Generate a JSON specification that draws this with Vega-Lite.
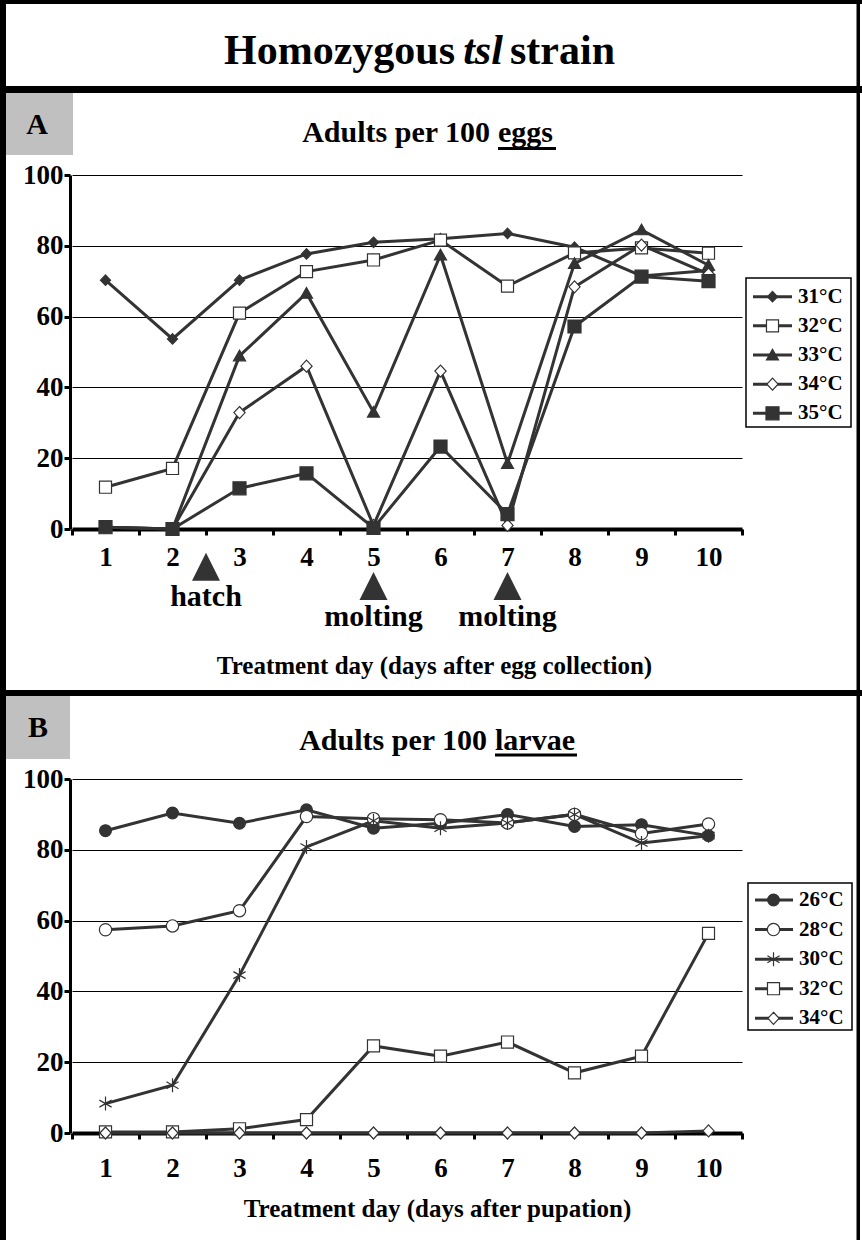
{
  "$schema": "https://vega.github.io/schema/vega-lite/v6.json",
  "width": 862,
  "height": 1240,
  "autosize": {"type": "none"},
  "padding": 0,
  "background": "white",
  "config": {
    "view": {"stroke": null},
    "font": "Liberation Serif",
    "axis": {
      "labelFont": "Liberation Serif", "labelFontWeight": "bold", "labelColor": "black",
      "titleFont": "Liberation Serif", "titleFontWeight": "bold", "titleColor": "black",
      "domainColor": "black", "tickColor": "black", "labelFlush": false, "labelOverlap": false
    },
    "text": {"font": "Liberation Serif", "fontWeight": "bold", "color": "black"}
  },
  "datasets": {
    "eggs": [
      {"day": 1, "series": "31°C", "value": 70.3}, {"day": 2, "series": "31°C", "value": 53.7}, {"day": 3, "series": "31°C", "value": 70.3}, {"day": 4, "series": "31°C", "value": 77.7}, {"day": 5, "series": "31°C", "value": 81.0}, {"day": 6, "series": "31°C", "value": 82.0}, {"day": 7, "series": "31°C", "value": 83.5}, {"day": 8, "series": "31°C", "value": 79.6}, {"day": 9, "series": "31°C", "value": 71.5}, {"day": 10, "series": "31°C", "value": 73.0},
      {"day": 1, "series": "32°C", "value": 11.8}, {"day": 2, "series": "32°C", "value": 17.1}, {"day": 3, "series": "32°C", "value": 61.0}, {"day": 4, "series": "32°C", "value": 72.7}, {"day": 5, "series": "32°C", "value": 76.0}, {"day": 6, "series": "32°C", "value": 81.6}, {"day": 7, "series": "32°C", "value": 68.6}, {"day": 8, "series": "32°C", "value": 78.0}, {"day": 9, "series": "32°C", "value": 79.4}, {"day": 10, "series": "32°C", "value": 77.9},
      {"day": 1, "series": "33°C", "value": 0.5}, {"day": 2, "series": "33°C", "value": 0}, {"day": 3, "series": "33°C", "value": 48.9}, {"day": 4, "series": "33°C", "value": 66.6}, {"day": 5, "series": "33°C", "value": 33.0}, {"day": 6, "series": "33°C", "value": 77.4}, {"day": 7, "series": "33°C", "value": 18.5}, {"day": 8, "series": "33°C", "value": 75.0}, {"day": 9, "series": "33°C", "value": 84.5}, {"day": 10, "series": "33°C", "value": 74.5},
      {"day": 1, "series": "34°C", "value": 0.5}, {"day": 2, "series": "34°C", "value": 0}, {"day": 3, "series": "34°C", "value": 32.9}, {"day": 4, "series": "34°C", "value": 46.0}, {"day": 5, "series": "34°C", "value": 1.0}, {"day": 6, "series": "34°C", "value": 44.6}, {"day": 7, "series": "34°C", "value": 1.0}, {"day": 8, "series": "34°C", "value": 68.4}, {"day": 9, "series": "34°C", "value": 80.2}, {"day": 10, "series": "34°C", "value": 72.0},
      {"day": 1, "series": "35°C", "value": 0.5}, {"day": 2, "series": "35°C", "value": 0}, {"day": 3, "series": "35°C", "value": 11.5}, {"day": 4, "series": "35°C", "value": 15.7}, {"day": 5, "series": "35°C", "value": 0.3}, {"day": 6, "series": "35°C", "value": 23.3}, {"day": 7, "series": "35°C", "value": 4.2}, {"day": 8, "series": "35°C", "value": 57.2}, {"day": 9, "series": "35°C", "value": 71.3}, {"day": 10, "series": "35°C", "value": 70.0}
    ],
    "larvae": [
      {"day": 1, "series": "26°C", "value": 85.4}, {"day": 2, "series": "26°C", "value": 90.4}, {"day": 3, "series": "26°C", "value": 87.5}, {"day": 4, "series": "26°C", "value": 91.3}, {"day": 5, "series": "26°C", "value": 86.1}, {"day": 6, "series": "26°C", "value": 87.5}, {"day": 7, "series": "26°C", "value": 90.0}, {"day": 8, "series": "26°C", "value": 86.6}, {"day": 9, "series": "26°C", "value": 87.1}, {"day": 10, "series": "26°C", "value": 84.0},
      {"day": 1, "series": "28°C", "value": 57.4}, {"day": 2, "series": "28°C", "value": 58.5}, {"day": 3, "series": "28°C", "value": 62.8}, {"day": 4, "series": "28°C", "value": 89.4}, {"day": 5, "series": "28°C", "value": 88.8}, {"day": 6, "series": "28°C", "value": 88.5}, {"day": 7, "series": "28°C", "value": 87.6}, {"day": 8, "series": "28°C", "value": 90.0}, {"day": 9, "series": "28°C", "value": 84.6}, {"day": 10, "series": "28°C", "value": 87.3},
      {"day": 1, "series": "30°C", "value": 8.3}, {"day": 2, "series": "30°C", "value": 13.5}, {"day": 3, "series": "30°C", "value": 44.6}, {"day": 4, "series": "30°C", "value": 80.8}, {"day": 5, "series": "30°C", "value": 88.2}, {"day": 6, "series": "30°C", "value": 86.1}, {"day": 7, "series": "30°C", "value": 87.6}, {"day": 8, "series": "30°C", "value": 90.0}, {"day": 9, "series": "30°C", "value": 81.9}, {"day": 10, "series": "30°C", "value": 84.0},
      {"day": 1, "series": "32°C", "value": 0.3}, {"day": 2, "series": "32°C", "value": 0.3}, {"day": 3, "series": "32°C", "value": 1.2}, {"day": 4, "series": "32°C", "value": 3.8}, {"day": 5, "series": "32°C", "value": 24.6}, {"day": 6, "series": "32°C", "value": 21.7}, {"day": 7, "series": "32°C", "value": 25.7}, {"day": 8, "series": "32°C", "value": 17.0}, {"day": 9, "series": "32°C", "value": 21.7}, {"day": 10, "series": "32°C", "value": 56.4},
      {"day": 1, "series": "34°C", "value": 0}, {"day": 2, "series": "34°C", "value": 0}, {"day": 3, "series": "34°C", "value": 0}, {"day": 4, "series": "34°C", "value": 0}, {"day": 5, "series": "34°C", "value": 0}, {"day": 6, "series": "34°C", "value": 0}, {"day": 7, "series": "34°C", "value": 0}, {"day": 8, "series": "34°C", "value": 0}, {"day": 9, "series": "34°C", "value": 0}, {"day": 10, "series": "34°C", "value": 0.6}
    ],
    "seriesA": [{"series": "31°C"}, {"series": "32°C"}, {"series": "33°C"}, {"series": "34°C"}, {"series": "35°C"}],
    "seriesB": [{"series": "26°C"}, {"series": "28°C"}, {"series": "30°C"}, {"series": "32°C"}, {"series": "34°C"}],
    "events": [{"day": 2.5, "event": "hatch"}, {"day": 5, "event": "molting"}, {"day": 7, "event": "molting"}]
  },
  "data": {"values": [{}]},
  "layer": [
    {"mark": {"type": "rect", "fill": "#c0c0c0"}, "encoding": {"x": {"value": 6}, "x2": {"value": 73}, "y": {"value": 93}, "y2": {"value": 155}}},
    {"mark": {"type": "rect", "fill": "#c0c0c0"}, "encoding": {"x": {"value": 6}, "x2": {"value": 70}, "y": {"value": 696}, "y2": {"value": 759}}},
    {"mark": {"type": "rect", "fill": "black"}, "encoding": {"x": {"value": 0}, "x2": {"value": 6}, "y": {"value": 0}, "y2": {"value": 1240}}},
    {"mark": {"type": "rect", "fill": "black"}, "encoding": {"x": {"value": 0}, "x2": {"value": 862}, "y": {"value": 0}, "y2": {"value": 4}}},
    {"mark": {"type": "rect", "fill": "black"}, "encoding": {"x": {"value": 856.5}, "x2": {"value": 860}, "y": {"value": 0}, "y2": {"value": 1240}}},
    {"mark": {"type": "rect", "fill": "black"}, "encoding": {"x": {"value": 0}, "x2": {"value": 862}, "y": {"value": 86}, "y2": {"value": 93}}},
    {"mark": {"type": "rect", "fill": "black"}, "encoding": {"x": {"value": 0}, "x2": {"value": 862}, "y": {"value": 690}, "y2": {"value": 696}}},
    {"mark": {"type": "text", "text": "Homozygous", "fontSize": 42, "align": "right", "baseline": "alphabetic"}, "encoding": {"x": {"value": 455}, "y": {"value": 64}}},
    {"mark": {"type": "text", "text": "tsl", "fontSize": 42, "fontStyle": "italic", "align": "center", "baseline": "alphabetic"}, "encoding": {"x": {"value": 483}, "y": {"value": 64}}},
    {"mark": {"type": "text", "text": "strain", "fontSize": 42, "align": "left", "baseline": "alphabetic"}, "encoding": {"x": {"value": 510}, "y": {"value": 64}}},
    {"mark": {"type": "text", "text": "A", "fontSize": 30, "align": "center", "baseline": "middle"}, "encoding": {"x": {"value": 37}, "y": {"value": 125}}},
    {"mark": {"type": "text", "text": "B", "fontSize": 30, "align": "center", "baseline": "middle"}, "encoding": {"x": {"value": 38}, "y": {"value": 728}}},
    {"mark": {"type": "text", "text": "Adults per 100", "fontSize": 30, "align": "right", "baseline": "alphabetic"}, "encoding": {"x": {"value": 490}, "y": {"value": 142}}},
    {"mark": {"type": "text", "text": "eggs", "fontSize": 30, "align": "left", "baseline": "alphabetic"}, "encoding": {"x": {"value": 498}, "y": {"value": 142}}},
    {"mark": {"type": "rule", "color": "black", "strokeWidth": 3}, "encoding": {"x": {"value": 498}, "x2": {"value": 556}, "y": {"value": 148.5}}},
    {"mark": {"type": "text", "text": "Adults per 100", "fontSize": 30, "align": "right", "baseline": "alphabetic"}, "encoding": {"x": {"value": 487}, "y": {"value": 750}}},
    {"mark": {"type": "text", "text": "larvae", "fontSize": 30, "align": "left", "baseline": "alphabetic"}, "encoding": {"x": {"value": 495}, "y": {"value": 750}}},
    {"mark": {"type": "rule", "color": "black", "strokeWidth": 3}, "encoding": {"x": {"value": 495}, "x2": {"value": 577}, "y": {"value": 755}}},
    {"mark": {"type": "rect", "fill": "white", "stroke": "black", "strokeWidth": 1.5}, "encoding": {"x": {"value": 746}, "x2": {"value": 851}, "y": {"value": 278}, "y2": {"value": 427}}},
    {"mark": {"type": "rect", "fill": "white", "stroke": "black", "strokeWidth": 1.5}, "encoding": {"x": {"value": 748}, "x2": {"value": 852}, "y": {"value": 883}, "y2": {"value": 1030}}},
    {
      "data": {"name": "eggs"},
      "encoding": {
        "x": {"field": "day", "type": "quantitative",
          "scale": {"domain": [0.5, 10.5], "range": [72, 742], "nice": false, "zero": false},
          "axis": {"orient": "bottom", "offset": -711, "values": [0.5, 1.5, 2.5, 3.5, 4.5, 5.5, 6.5, 7.5, 8.5, 9.5, 10.5],
            "labelExpr": "datum.value < 10 ? format(datum.value + 0.5, 'd') : ''", "labelOffset": 33.5,
            "labelFontSize": 27, "labelPadding": 9, "tickSize": 6, "tickWidth": 3, "domainWidth": 4, "grid": false,
            "title": "Treatment day (days after egg collection)", "titleFontSize": 25, "titleX": 434, "titleY": 144,
            "titleAlign": "center", "titleBaseline": "alphabetic"}},
        "y": {"field": "value", "type": "quantitative",
          "scale": {"domain": [0, 100], "range": [529, 175], "nice": false, "zero": false},
          "axis": {"orient": "left", "offset": -70, "values": [0, 20, 40, 60, 80, 100], "labelFontSize": 27, "labelPadding": 1,
            "tickSize": 6, "tickWidth": 3, "domainWidth": 3, "grid": true, "gridColor": "black", "gridWidth": 1, "gridOpacity": 1, "title": null}}
      },
      "layer": [
        {"data": {"values": [{}]}, "mark": {"type": "rule", "color": "#999999", "strokeWidth": 1.5}, "encoding": {"x": {"datum": 0.5}, "x2": {"datum": 10.5}, "y": {"datum": 99.4}}},
        {"mark": {"type": "line", "color": "#333333", "strokeWidth": 3}, "encoding": {"detail": {"field": "series", "type": "nominal"}}},
        {"mark": {"type": "point", "opacity": 1, "stroke": "#333333", "strokeWidth": 1.2, "size": 196},
          "encoding": {
            "shape": {"field": "series", "type": "nominal", "legend": null, "scale": {"domain": ["31°C", "32°C", "33°C", "34°C", "35°C"],
              "range": ["M0,-0.75L0.72,0L0,0.75L-0.72,0Z", "M-0.86,-0.86L0.86,-0.86L0.86,0.86L-0.86,0.86Z", "M0,-0.82L0.86,0.7L-0.86,0.7Z", "M0,-0.86L0.8,0L0,0.86L-0.8,0Z", "M-0.93,-0.93L0.93,-0.93L0.93,0.93L-0.93,0.93Z"]}},
            "fill": {"field": "series", "type": "nominal", "legend": null, "scale": {"domain": ["31°C", "32°C", "33°C", "34°C", "35°C"], "range": ["#333333", "white", "#333333", "white", "#333333"]}}
          }}
      ]
    },
    {
      "data": {"name": "larvae"},
      "encoding": {
        "x": {"field": "day", "type": "quantitative",
          "scale": {"domain": [0.5, 10.5], "range": [72, 742], "nice": false, "zero": false},
          "axis": {"orient": "bottom", "offset": -107, "values": [0.5, 1.5, 2.5, 3.5, 4.5, 5.5, 6.5, 7.5, 8.5, 9.5, 10.5],
            "labelExpr": "datum.value < 10 ? format(datum.value + 0.5, 'd') : ''", "labelOffset": 33.5,
            "labelFontSize": 27, "labelPadding": 16, "tickSize": 6, "tickWidth": 3, "domainWidth": 4, "grid": false,
            "title": "Treatment day (days after pupation)", "titleFontSize": 25, "titleX": 437, "titleY": 83,
            "titleAlign": "center", "titleBaseline": "alphabetic"}},
        "y": {"field": "value", "type": "quantitative",
          "scale": {"domain": [0, 100], "range": [1133, 779], "nice": false, "zero": false},
          "axis": {"orient": "left", "offset": -70, "values": [0, 20, 40, 60, 80, 100], "labelFontSize": 27, "labelPadding": 1,
            "tickSize": 6, "tickWidth": 3, "domainWidth": 3, "grid": true, "gridColor": "black", "gridWidth": 1, "gridOpacity": 1, "title": null}}
      },
      "layer": [
        {"mark": {"type": "line", "color": "#333333", "strokeWidth": 3}, "encoding": {"detail": {"field": "series", "type": "nominal"}}},
        {"mark": {"type": "point", "opacity": 1, "stroke": "#333333", "strokeWidth": 1.2, "size": 196},
          "encoding": {
            "shape": {"field": "series", "type": "nominal", "legend": null, "scale": {"domain": ["26°C", "28°C", "30°C", "32°C", "34°C"],
              "range": ["M0.84,0A0.84,0.84,0,1,1,-0.84,0A0.84,0.84,0,1,1,0.84,0Z", "M0.88,0A0.88,0.88,0,1,1,-0.88,0A0.88,0.88,0,1,1,0.88,0Z", "M0,-1L0,1M-0.87,-0.5L0.87,0.5M-0.87,0.5L0.87,-0.5", "M-0.86,-0.86L0.86,-0.86L0.86,0.86L-0.86,0.86Z", "M0,-0.86L0.8,0L0,0.86L-0.8,0Z"]}},
            "fill": {"field": "series", "type": "nominal", "legend": null, "scale": {"domain": ["26°C", "28°C", "30°C", "32°C", "34°C"], "range": ["#333333", "white", "transparent", "white", "white"]}}
          }}
      ]
    },
    {
      "data": {"name": "events"},
      "encoding": {
        "x": {"field": "day", "type": "quantitative", "axis": null, "scale": {"domain": [0.5, 10.5], "range": [72, 742], "nice": false, "zero": false}},
        "y": {"field": "event", "type": "nominal", "axis": null, "scale": {"type": "point", "domain": ["hatch", "molting"], "range": [566.7, 586], "padding": 0}}
      },
      "layer": [
        {"mark": {"type": "point", "shape": "M0,-1L1,1L-1,1Z", "size": 784, "filled": true, "color": "#333333", "opacity": 1}},
        {"mark": {"type": "text", "fontSize": 30, "align": "center", "baseline": "alphabetic", "dy": 39.5}, "encoding": {"text": {"field": "event"}}}
      ]
    },
    {
      "data": {"name": "seriesA"},
      "encoding": {
        "y": {"field": "series", "type": "nominal", "axis": null, "scale": {"type": "point", "domain": ["31°C", "32°C", "33°C", "34°C", "35°C"], "range": [296.7, 413.3], "padding": 0}}
      },
      "layer": [
        {"mark": {"type": "rule", "color": "#333333", "strokeWidth": 3}, "encoding": {"x": {"value": 753}, "x2": {"value": 792}}},
        {"mark": {"type": "point", "opacity": 1, "stroke": "#333333", "strokeWidth": 1.2, "size": 196},
          "encoding": {
            "x": {"value": 772.5},
            "shape": {"field": "series", "type": "nominal", "legend": null, "scale": {"domain": ["31°C", "32°C", "33°C", "34°C", "35°C"],
              "range": ["M0,-0.75L0.72,0L0,0.75L-0.72,0Z", "M-0.86,-0.86L0.86,-0.86L0.86,0.86L-0.86,0.86Z", "M0,-0.82L0.86,0.7L-0.86,0.7Z", "M0,-0.86L0.8,0L0,0.86L-0.8,0Z", "M-0.93,-0.93L0.93,-0.93L0.93,0.93L-0.93,0.93Z"]}},
            "fill": {"field": "series", "type": "nominal", "legend": null, "scale": {"domain": ["31°C", "32°C", "33°C", "34°C", "35°C"], "range": ["#333333", "white", "#333333", "white", "#333333"]}}
          }},
        {"mark": {"type": "text", "fontSize": 21, "align": "left", "baseline": "middle"}, "encoding": {"x": {"value": 798}, "text": {"field": "series"}}}
      ]
    },
    {
      "data": {"name": "seriesB"},
      "encoding": {
        "y": {"field": "series", "type": "nominal", "axis": null, "scale": {"type": "point", "domain": ["26°C", "28°C", "30°C", "32°C", "34°C"], "range": [900, 1018.3], "padding": 0}}
      },
      "layer": [
        {"mark": {"type": "rule", "color": "#333333"}, "encoding": {"x": {"value": 755}, "x2": {"value": 793},
          "strokeWidth": {"field": "series", "type": "ordinal", "legend": null, "scale": {"domain": ["26°C", "28°C", "30°C", "32°C", "34°C"], "range": [3, 3, 3, 3, 1.2]}}}},
        {"mark": {"type": "point", "opacity": 1, "stroke": "#333333", "strokeWidth": 1.2, "size": 196},
          "encoding": {
            "x": {"value": 773.5},
            "shape": {"field": "series", "type": "nominal", "legend": null, "scale": {"domain": ["26°C", "28°C", "30°C", "32°C", "34°C"],
              "range": ["M0.84,0A0.84,0.84,0,1,1,-0.84,0A0.84,0.84,0,1,1,0.84,0Z", "M0.88,0A0.88,0.88,0,1,1,-0.88,0A0.88,0.88,0,1,1,0.88,0Z", "M0,-1L0,1M-0.87,-0.5L0.87,0.5M-0.87,0.5L0.87,-0.5", "M-0.86,-0.86L0.86,-0.86L0.86,0.86L-0.86,0.86Z", "M0,-0.86L0.8,0L0,0.86L-0.8,0Z"]}},
            "fill": {"field": "series", "type": "nominal", "legend": null, "scale": {"domain": ["26°C", "28°C", "30°C", "32°C", "34°C"], "range": ["#333333", "white", "transparent", "white", "white"]}}
          }},
        {"mark": {"type": "text", "fontSize": 21, "align": "left", "baseline": "middle"}, "encoding": {"x": {"value": 799}, "text": {"field": "series"}}}
      ]
    }
  ],
  "resolve": {
    "scale": {"x": "independent", "y": "independent", "shape": "independent", "fill": "independent", "strokeWidth": "independent"},
    "axis": {"x": "independent", "y": "independent"}
  }
}
